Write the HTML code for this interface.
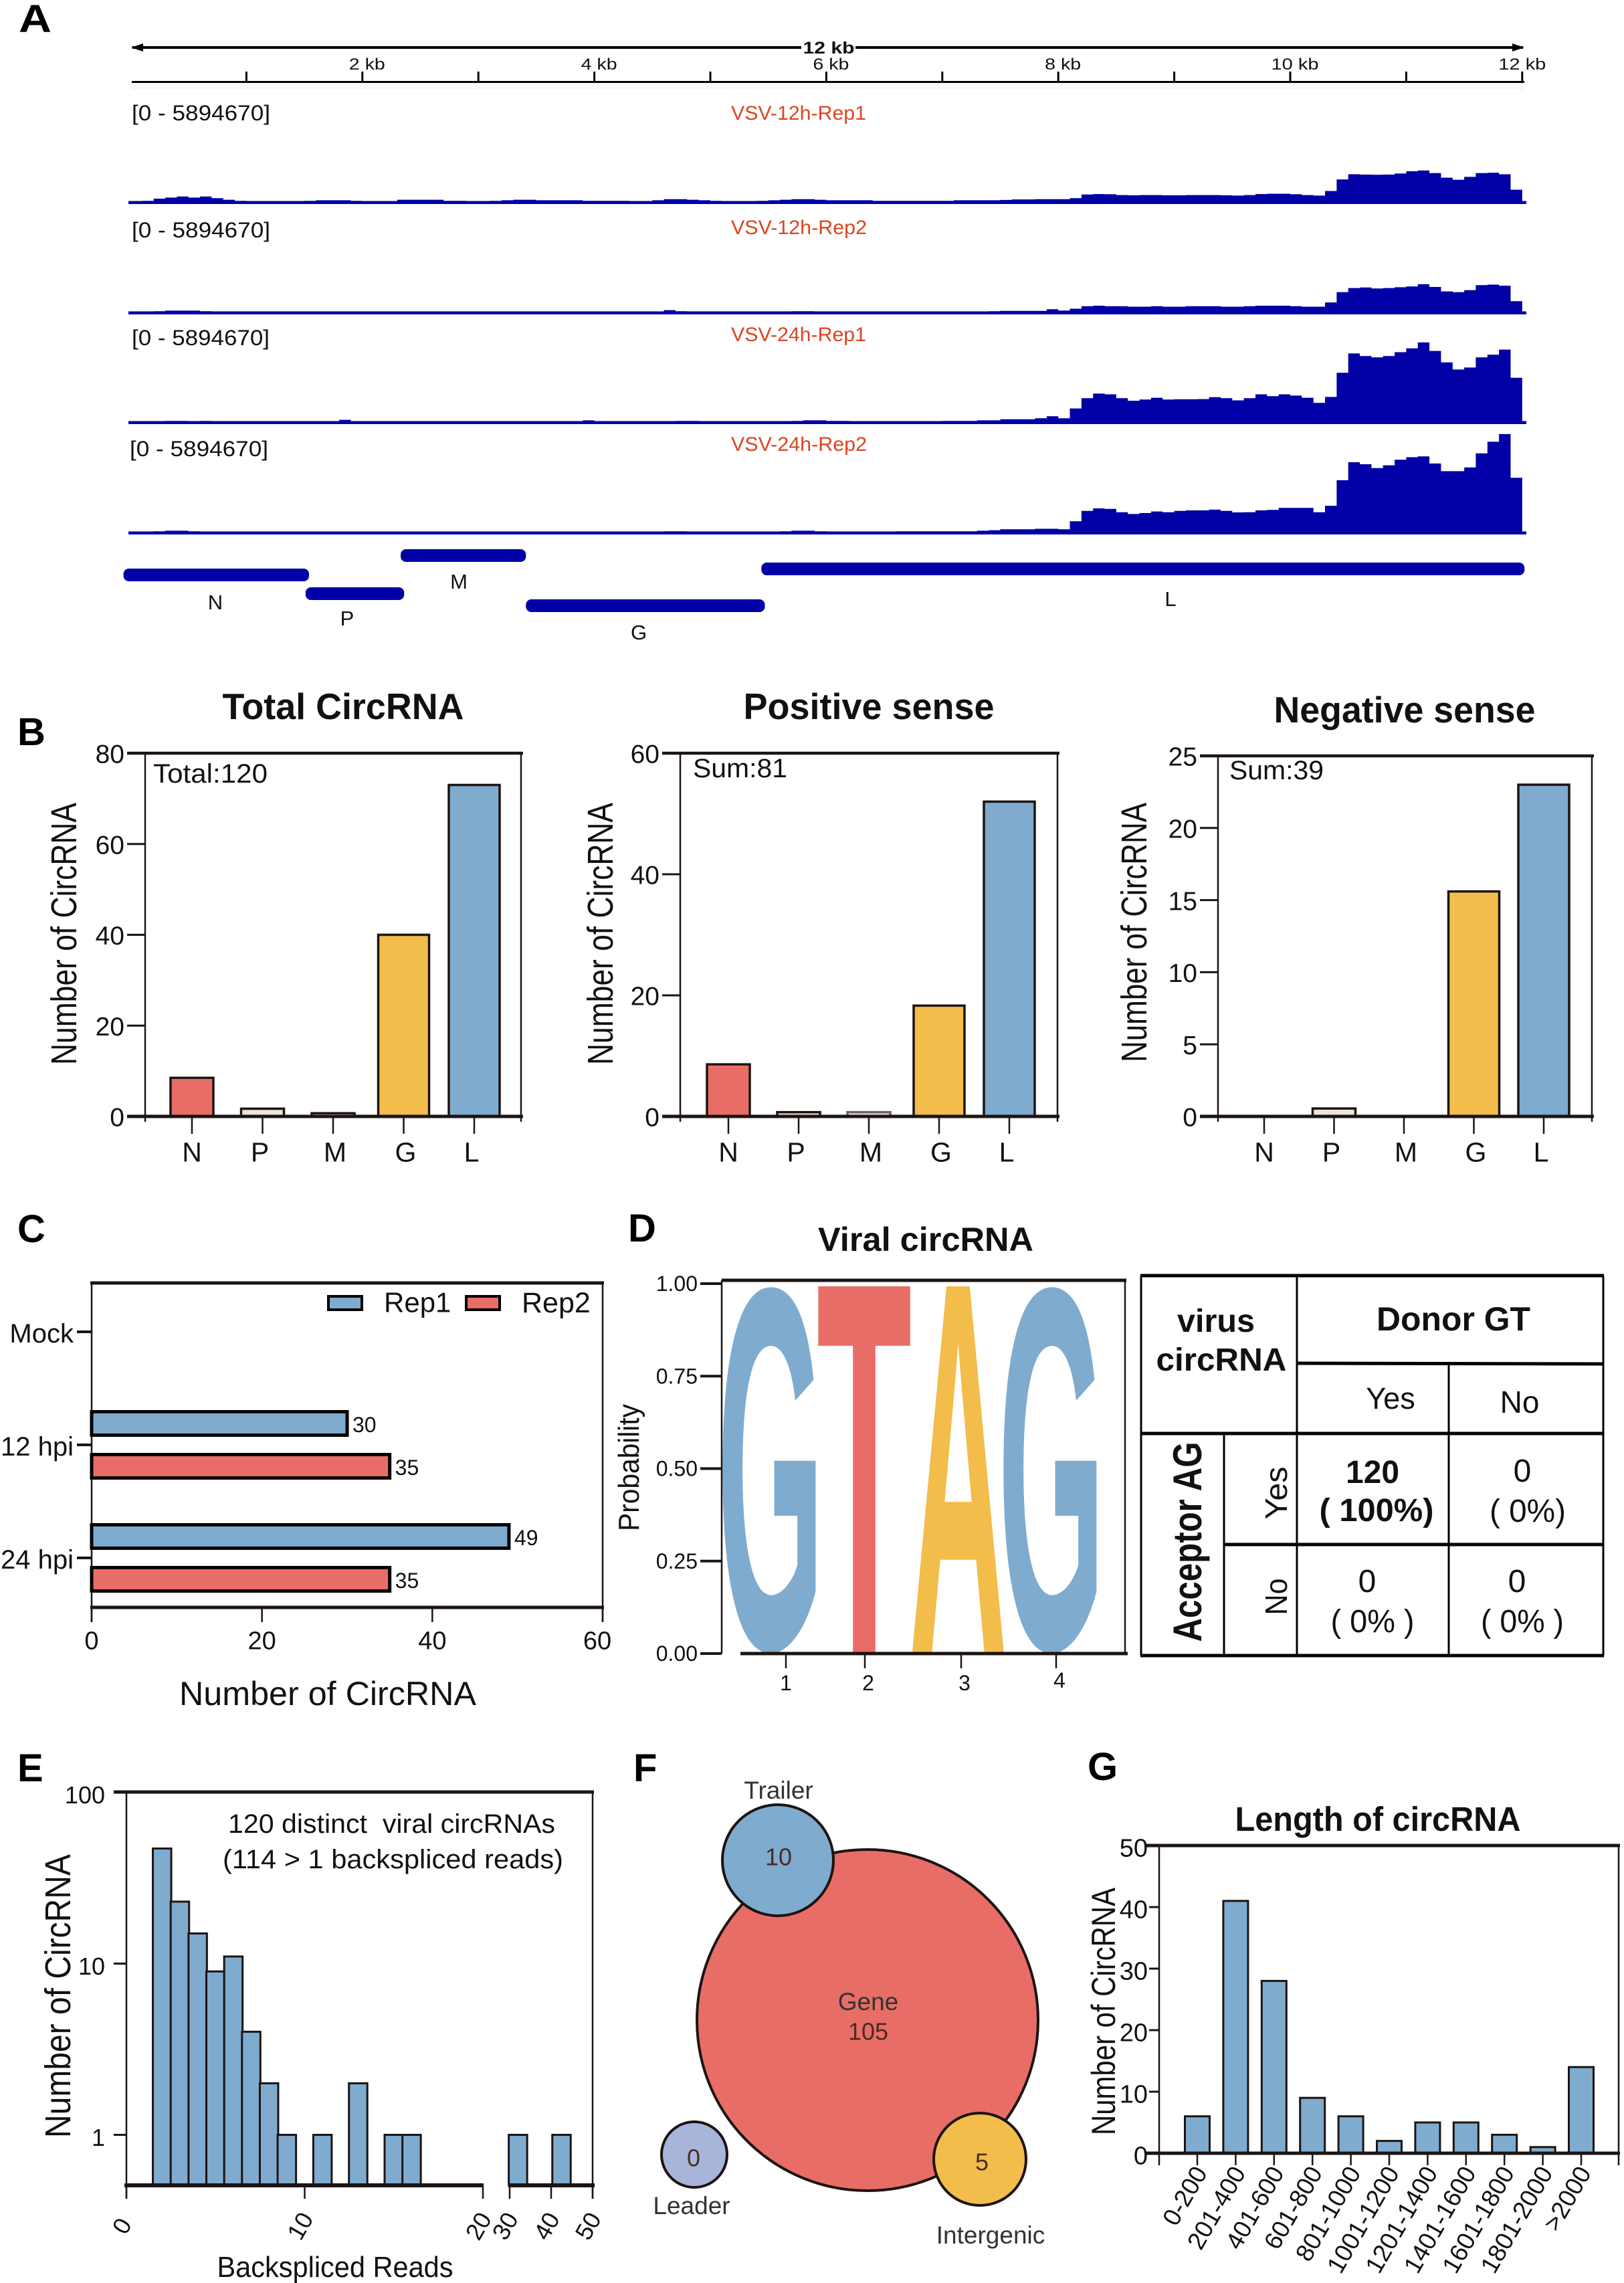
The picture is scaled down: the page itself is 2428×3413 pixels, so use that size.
<!DOCTYPE html>
<html lang="en">
<head>
<meta charset="utf-8">
<title>VSV viral circRNA figure</title>
<style>
html,body{margin:0;padding:0;background:#fff}
svg{display:block;font-family:"Liberation Sans",Arial,sans-serif;fill:#111}
.b{font-weight:bold}
.pl{font-weight:bold;font-size:58px;fill:#000}
</style>
</head>
<body>
<svg id="fig" xmlns="http://www.w3.org/2000/svg" width="2428" height="3413" viewBox="0 0 2428 3413">
<rect x="0" y="0" width="2428" height="3413" fill="#fff"/>

<!-- panel letters -->
<text class="pl" x="28" y="48" textLength="49" lengthAdjust="spacingAndGlyphs">A</text>
<text class="pl" x="26" y="1114">B</text>
<text class="pl" x="26" y="1857">C</text>
<text class="pl" x="939" y="1856">D</text>
<text class="pl" x="26" y="2663">E</text>
<text class="pl" x="947" y="2663">F</text>
<text class="pl" x="1626" y="2661">G</text>

<!-- panel A ruler -->
<rect x="195" y="124" width="2084" height="10" fill="#f7f7f7"/>
<line x1="198" y1="71" x2="2277" y2="71" stroke="#000" stroke-width="4"/>
<polygon points="196,71 214,65 214,77" fill="#000"/>
<polygon points="2279,71 2261,65 2261,77" fill="#000"/>
<rect x="1198" y="60" width="81" height="22" fill="#fff"/>
<text class="b" x="1239" y="80" font-size="25" text-anchor="middle" textLength="77" lengthAdjust="spacingAndGlyphs">12 kb</text>
<line x1="197" y1="122.500" x2="2279" y2="122.500" stroke="#000" stroke-width="3"/>

<text x="197" y="180" font-size="32" textLength="207" lengthAdjust="spacingAndGlyphs">[0 - 5894670]</text>
<text x="197" y="355" font-size="32" textLength="207" lengthAdjust="spacingAndGlyphs">[0 - 5894670]</text>
<text x="197" y="516" font-size="32" textLength="206" lengthAdjust="spacingAndGlyphs">[0 - 5894670]</text>
<text x="194" y="682" font-size="32" textLength="207" lengthAdjust="spacingAndGlyphs">[0 - 5894670]</text>
<text x="1093" y="179" font-size="30" fill="#dc4420" style="fill:#dc4420" textLength="202" lengthAdjust="spacingAndGlyphs">VSV-12h-Rep1</text>
<text x="1093" y="350" font-size="30" style="fill:#dc4420" textLength="203" lengthAdjust="spacingAndGlyphs">VSV-12h-Rep2</text>
<text x="1093" y="510" font-size="30" style="fill:#dc4420" textLength="202" lengthAdjust="spacingAndGlyphs">VSV-24h-Rep1</text>
<text x="1093" y="674" font-size="30" style="fill:#dc4420" textLength="203" lengthAdjust="spacingAndGlyphs">VSV-24h-Rep2</text>

<!-- panel B static -->
<text class="b" x="513" y="1075" font-size="55" text-anchor="middle" textLength="361" lengthAdjust="spacingAndGlyphs">Total CircRNA</text>
<text class="b" x="1299" y="1075" font-size="55" text-anchor="middle" textLength="375" lengthAdjust="spacingAndGlyphs">Positive sense</text>
<text class="b" x="2100" y="1080" font-size="55" text-anchor="middle" textLength="391" lengthAdjust="spacingAndGlyphs">Negative sense</text>
<text transform="translate(114,1396) rotate(-90)" font-size="54" text-anchor="middle" textLength="392" lengthAdjust="spacingAndGlyphs">Number of CircRNA</text>
<text transform="translate(916,1396) rotate(-90)" font-size="54" text-anchor="middle" textLength="392" lengthAdjust="spacingAndGlyphs">Number of CircRNA</text>
<text transform="translate(1714,1394) rotate(-90)" font-size="54" text-anchor="middle" textLength="388" lengthAdjust="spacingAndGlyphs">Number of CircRNA</text>
<text x="229" y="1170" font-size="40" textLength="171" lengthAdjust="spacingAndGlyphs">Total:120</text>
<text x="1036" y="1162" font-size="40" textLength="141" lengthAdjust="spacingAndGlyphs">Sum:81</text>
<text x="1838" y="1165" font-size="40" textLength="141" lengthAdjust="spacingAndGlyphs">Sum:39</text>

<!-- panel C static -->
<text x="490" y="2549" font-size="50" text-anchor="middle" textLength="444" lengthAdjust="spacingAndGlyphs">Number of CircRNA</text>

<!-- panel D static -->
<text class="b" x="1384" y="1870" font-size="50" text-anchor="middle" textLength="322" lengthAdjust="spacingAndGlyphs">Viral circRNA</text>
<text transform="translate(955,2194) rotate(-90)" font-size="44" text-anchor="middle" textLength="190" lengthAdjust="spacingAndGlyphs">Probability</text>

<g stroke="#000">
  <line x1="1705" y1="1907" x2="2398" y2="1907" stroke-width="5"/>
  <line x1="1705" y1="2475" x2="2398" y2="2475" stroke-width="5"/>
  <line x1="1706" y1="1907" x2="1706" y2="2475" stroke-width="3"/>
  <line x1="2397" y1="1907" x2="2397" y2="2475" stroke-width="3"/>
  <line x1="1939" y1="1907" x2="1939" y2="2475" stroke-width="3"/>
  <line x1="2166" y1="2038" x2="2166" y2="2475" stroke-width="3"/>
  <line x1="1830" y1="2143" x2="1830" y2="2475" stroke-width="3"/>
  <line x1="1939" y1="2038" x2="2398" y2="2039" stroke-width="5"/>
  <line x1="1705" y1="2143" x2="2398" y2="2143" stroke-width="5"/>
  <line x1="1830" y1="2309" x2="2398" y2="2309" stroke-width="5"/>
</g>
<text class="b" x="1818" y="1991" font-size="48" text-anchor="middle" textLength="116" lengthAdjust="spacingAndGlyphs">virus</text>
<text class="b" x="1826" y="2049" font-size="48" text-anchor="middle" textLength="195" lengthAdjust="spacingAndGlyphs">circRNA</text>
<text class="b" x="2173" y="1989" font-size="50" text-anchor="middle" textLength="230" lengthAdjust="spacingAndGlyphs">Donor GT</text>
<text x="2079" y="2106" font-size="45" text-anchor="middle">Yes</text>
<text x="2272" y="2112" font-size="46" text-anchor="middle">No</text>
<text class="b" transform="translate(1796,2305) rotate(-90)" font-size="60" text-anchor="middle" textLength="299" lengthAdjust="spacingAndGlyphs">Acceptor AG</text>
<text transform="translate(1924,2232) rotate(-90)" font-size="46" text-anchor="middle" textLength="79" lengthAdjust="spacingAndGlyphs">Yes</text>
<text transform="translate(1924,2387) rotate(-90)" font-size="46" text-anchor="middle" textLength="55" lengthAdjust="spacingAndGlyphs">No</text>
<text class="b" x="2052" y="2217" font-size="48" text-anchor="middle">120</text>
<text class="b" x="2058" y="2274" font-size="48" text-anchor="middle" textLength="171" lengthAdjust="spacingAndGlyphs">( 100%)</text>
<text x="2276" y="2215" font-size="48" text-anchor="middle">0</text>
<text x="2284" y="2275" font-size="48" text-anchor="middle" textLength="114" lengthAdjust="spacingAndGlyphs">( 0%)</text>
<text x="2044" y="2380" font-size="48" text-anchor="middle">0</text>
<text x="2052" y="2440" font-size="48" text-anchor="middle" textLength="125" lengthAdjust="spacingAndGlyphs">( 0% )</text>
<text x="2268" y="2380" font-size="48" text-anchor="middle">0</text>
<text x="2276" y="2440" font-size="48" text-anchor="middle" textLength="124" lengthAdjust="spacingAndGlyphs">( 0% )</text>

<!-- panel E static -->
<text transform="translate(105,2984) rotate(-90)" font-size="54" text-anchor="middle" textLength="424" lengthAdjust="spacingAndGlyphs">Number of CircRNA</text>
<text x="501" y="3404" font-size="44" text-anchor="middle" textLength="353" lengthAdjust="spacingAndGlyphs">Backspliced Reads</text>
<text x="341" y="2740" font-size="40" textLength="489" lengthAdjust="spacingAndGlyphs" xml:space="preserve">120 distinct  viral circRNAs</text>
<text x="333" y="2793" font-size="40" textLength="509" lengthAdjust="spacingAndGlyphs">(114 &gt; 1 backspliced reads)</text>

<!-- panel G static -->
<text class="b" x="2060" y="2737" font-size="51" text-anchor="middle" textLength="427" lengthAdjust="spacingAndGlyphs">Length of circRNA</text>
<text transform="translate(1667,3007) rotate(-90)" font-size="50" text-anchor="middle" textLength="370" lengthAdjust="spacingAndGlyphs">Number of CircRNA</text>

<g id="dyn"></g>
</svg>

<script>
/* ---------- panel A data ---------- */
const rulerTicksKb = [1,2,3,4,5,6,7,8,9,10,11,12];
const rulerLabelsKb = [2,4,6,8,10,12];
const trackScaleMax = 100; /* percent of the [0 - 5894670] range */
const track12hRep1 = [2,3,5,6,7,6,7,5.5,4,3,2,2,2,2,2,3,3.5,3.5,3.5,3,2,2,2.5,4,4,4,4,3,3,2.5,2,3,3.5,4,4,3.5,3.5,3.5,3.5,3,3,3,3,2.5,2.5,3.5,4.5,4.5,4,3.5,3,2.5,2.5,2.5,3,3.5,4,4.5,4.5,4,3.5,3.5,3.5,3.5,3,3,3,3,3,3,3,3.5,3.5,3.5,3.5,3.8,4.3,4.3,4.5,4.5,4.5,5.5,8.9,9.3,9.1,8.4,8.1,8.4,8.4,8.1,8.1,8.4,8.4,8.4,8.1,7.9,8.4,9.3,9.6,9.6,9.1,8.4,7.9,12.2,23,27.8,27.5,27.3,27.5,28.5,30.6,31.3,28.9,24.6,22.7,25.4,28.9,29.2,27.8,13.4];
const track12hRep2 = [1.5,2,3,3.5,3.5,3.5,3,2.5,2.5,2,1.5,1.5,1.5,1.5,1.5,2,2,2,2,2,1.5,1.5,2,2.5,2.5,2.5,2.5,2,2,1.5,1.5,1.5,2,2.5,2.5,2.5,2,2,2,2,2,2,2,1.5,1.5,2,4,3,2.5,2,2,1.5,1.5,1.5,2,2,2.5,3,3,2.5,2,2,2,2,2,2,2,2,2,2,2,2,2,2.5,3,3.3,3.3,3.3,3.3,4.8,3.6,5.3,7.7,8.1,7.7,7.7,7.2,7.2,7.7,7.2,7.2,7.7,7.7,7.7,7.2,7.2,7.7,8.1,8.1,8.1,7.7,7.2,7.2,11.2,20.8,24.6,25.1,24.2,24.6,25.4,26.1,28.2,25.6,21.5,20.8,22.7,27.3,27.8,26.8,12.4];
const track24hRep1 = [1.5,2,2.5,3,3,2.5,3,2.5,2,1.5,1.5,1.5,1.5,1.5,1.5,1.5,1.5,2,4,1.5,1.5,1.5,1.5,1.5,2,2,2,1.5,1.5,1.5,1.5,1.5,1.5,2,2,2,2,1.5,1.5,3.5,1.5,1.5,1.5,1.5,1.5,1.5,2.5,3,3,2.5,2,2,1.5,2,1.5,2,2.5,3,3.5,3.5,3,3,2.5,2.5,2.5,2.5,2.5,2.5,2.5,2.5,3,3,3,3.5,3.5,4.5,4.5,4.5,5.5,7.4,5.5,14.6,24.2,28.5,27.8,24.2,21.8,23,24.6,23,23.2,23.2,23.4,25.1,24.2,22.2,24.2,27.8,26.1,27.8,26.6,24.6,19.9,25.4,48,66,63.6,62.4,63.6,67.2,70.8,76.3,68.4,57.7,51,52.9,62.4,64.8,69.6,43.3];
const track24hRep2 = [1.5,2,3,3.5,3.5,3,2.5,2.5,2.5,2,2,1.5,1.5,1.5,1.5,1.5,1.5,1.5,2,1.5,1.5,1.5,1.5,2,2,2,2,1.5,1.5,1.5,1.5,1.5,2,2.5,2.5,2.5,2,2,1.5,1.5,1.5,1.5,1.5,1.5,1.5,2,3,3,2.5,2,1.5,1.5,1.5,1.5,2,2.5,3,3.5,3.5,3,2.5,2.5,2.5,2.5,2.5,2.5,3,3,3,3,3,3,3,3.5,4,4.8,4.8,4.8,5.3,5.3,4.8,12.4,22,24.4,23.9,20.8,19.1,20,21.5,20.8,22,22.5,22.5,23.2,22,20.6,20.8,22.5,23,24.9,24.9,24.9,20.8,26.8,50.7,67.5,65.6,62,64.6,69.9,72.2,73,66.3,59.1,59.1,62.7,75.8,86.6,93.8,53];
const genes = ['N','P','M','G','L'];
const geneStartKb = [-0.06,1.51,2.33,3.41,5.44];
const geneEndKb = [1.54,2.36,3.41,5.47,12.02];

/* ---------- panel B data ---------- */
const lociCategories = ['N','P','M','G','L'];
const totalCounts = [8.5,1.7,0.7,40,73];
const positiveCounts = [8.6,0.7,0.7,18.3,52];
const negativeCounts = [0,0.55,0,15.6,23];
const totalTicks = [0,20,40,60,80];
const positiveTicks = [0,20,40,60];
const negativeTicks = [0,5,10,15,20,25];

/* ---------- panel C data ---------- */
const timepoints = ['Mock','12 hpi','24 hpi'];
const rep1Counts = [0,30,49];
const rep2Counts = [0,35,35];
const timepointXTicks = [0,20,40,60];

/* ---------- panel D data ---------- */
const motifLetters = ['G','T','A','G'];
const motifProbability = [1,1,1,1];
const motifPositions = [1,2,3,4];
const motifYTicks = ['0.00','0.25','0.50','0.75','1.00'];

/* ---------- panel E data ---------- */
const readBins = [2,3,4,5,6,7,8,9,11,13,15,16,32,42.5];
const readCounts = [47,23,15,9,11,4,2,1,1,2,1,1,1,1];
const readXTicks = [0,10,20,30,40,50];
const readYTicks = [1,10,100];

/* ---------- panel F data ---------- */
const regionNames = ['Gene','Trailer','Intergenic','Leader'];
const regionCounts = [105,10,5,0];

/* ---------- panel G data ---------- */
const lengthBins = ['0-200','201-400','401-600','601-800','801-1000','1001-1200','1201-1400','1401-1600','1601-1800','1801-2000','>2000'];
const lengthCounts = [6,41,28,9,6,2,5,5,3,1,14];
const lengthYTicks = [0,10,20,30,40,50];

/* ---------- helpers ---------- */
const NS = 'http://www.w3.org/2000/svg';
const root = document.getElementById('dyn');
const INK = '#1c1412';
function mk(tag, attrs, parent) {
  const el = document.createElementNS(NS, tag);
  for (const k in attrs) el.setAttribute(k, attrs[k]);
  (parent || root).appendChild(el);
  return el;
}
function linear(d0, d1, r0, r1) { return v => r0 + (v - d0) * (r1 - r0) / (d1 - d0); }
function line(x1, y1, x2, y2, w, color) {
  return mk('line', {x1, y1, x2, y2, stroke: color || INK, 'stroke-width': w});
}
function label(str, x, y, size, opt) {
  opt = opt || {};
  const a = {x, y: y + size * 0.35, 'font-size': size, 'text-anchor': opt.anchor || 'middle'};
  if (opt.rot) { a.y = y; a.transform = 'rotate(' + opt.rot + ' ' + x + ' ' + y + ')'; }
  if (opt.color) a.style = 'fill:' + opt.color;
  const el = mk('text', a);
  el.textContent = str;
  return el;
}
const BLUE = '#7fabcf', RED = '#e96d67', YEL = '#f2bd4b', CREAM = '#ece5d8';

/* ---------- panel A ---------- */
const xKb = linear(0, 12, 195, 2275.8);
rulerTicksKb.forEach(k => {
  const t = line(xKb(k), 107, xKb(k), 122, 3, '#000');
  
  
});
rulerLabelsKb.forEach(k => {
  const cx = xKb(k) + (k === 12 ? 0 : 7);
  const t = mk('text', {x: cx, y: 104, 'font-size': 24, 'text-anchor': 'middle', textLength: k >= 10 ? 71 : 54, lengthAdjust: 'spacingAndGlyphs'});
  t.textContent = k + ' kb';
  
  
});
const trackY = linear(0, trackScaleMax, 0, 160);
function drawTrack(values, base, name) {
  const step = 12 / values.length;
  let d = 'M' + xKb(0) + ' ' + base;
  values.forEach((v, i) => {
    const h = base - trackY(v);
    d += 'L' + xKb(i * step).toFixed(1) + ' ' + h.toFixed(1) + 'L' + xKb((i + 1) * step).toFixed(1) + ' ' + h.toFixed(1);
  });
  d += 'L' + xKb(12).toFixed(1) + ' ' + base + 'Z';
  const p = mk('path', {d, fill: '#0000a6'});
  
  
  const b = mk('rect', {x: 192, y: base - 4.5, width: 2090, height: 4.5, fill: '#0000a6'});
  
  
}
drawTrack(track12hRep1, 305, '12h-rep1');
drawTrack(track12hRep2, 470, '12h-rep2');
drawTrack(track24hRep1, 634, '24h-rep1');
drawTrack(track24hRep2, 799, '24h-rep2');
const geneRowY = {N: 850, P: 878, M: 821, G: 896, L: 841};
const geneLabelPos = {N: [322, 900], P: [519, 924], M: [686, 869], G: [955, 945], L: [1750, 895]};
genes.forEach((g, i) => {
  const x0 = xKb(geneStartKb[i]), x1 = xKb(geneEndKb[i]);
  const r = mk('rect', {x: x0, y: geneRowY[g], width: x1 - x0, height: 19, rx: 8, ry: 8, fill: '#0000a6'});
  
  
  const t = label(g, geneLabelPos[g][0], geneLabelPos[g][1], 31);
  
  
});

/* ---------- panel B ---------- */
const catFills = [RED, CREAM, CREAM, YEL, BLUE];
const catLabelNudge = [0, -4, 3, 3, -4];
function drawBarChart(cfg) {
  const y = linear(0, cfg.max, cfg.bottom, cfg.top);
  const xc = i => cfg.firstX + cfg.step * i;
  const frame = [
    [cfg.left, cfg.top, cfg.left, cfg.bottom + 8, 2.5, 'axis-left'],
    [cfg.right, cfg.top, cfg.right, cfg.bottom + 8, 2.5, 'axis-right'],
    [cfg.left - 27, cfg.top, cfg.right + 3, cfg.top, 4.5, 'axis-top']
  ];
  frame.forEach(f => {
    const l = line(f[0], f[1], f[2], f[3], f[4]);
    
    
  });
  cfg.ticks.forEach(v => {
    const l = line(cfg.left - 27, y(v), cfg.left, y(v), 3);
    
    
    const t = label(String(v), cfg.left - 31, y(v) + 1, 39, {anchor: 'end'});
    
    
  });
  lociCategories.forEach((c, i) => {
    const l = line(xc(i), cfg.bottom, xc(i), cfg.bottom + 26, 2.5);
    
    
    const t = label(c, xc(i) + catLabelNudge[i], 1722, 41);
    
    
    const v = cfg.values[i];
    if (v > 0) {
      const w = i < 3 ? 64 : 76;
      const stroke = cfg.grayIndex === i ? '#666' : INK;
      const r = mk('rect', {x: xc(i) - w / 2, y: y(v), width: w, height: cfg.bottom - y(v), fill: catFills[i], stroke, 'stroke-width': 3.5});
      
      
    }
  });
  const base = line(cfg.left - 27, cfg.bottom, cfg.right + 3, cfg.bottom, 5);
  
  
}
drawBarChart({name: 'total', values: totalCounts, ticks: totalTicks, max: 80, left: 217, right: 779, top: 1126, bottom: 1669, firstX: 287, step: 105.5});
drawBarChart({name: 'positive', values: positiveCounts, ticks: positiveTicks, max: 60, left: 1017, right: 1581, top: 1126, bottom: 1669, firstX: 1089, step: 105, grayIndex: 2});
drawBarChart({name: 'negative', values: negativeCounts, ticks: negativeTicks, max: 25, left: 1821, right: 2380, top: 1130, bottom: 1669, firstX: 1890, step: 104.5});

/* ---------- panel C ---------- */
const xC = linear(0, 60, 137, 901);
const rowC = i => 1991 + 169 * i;
[[137,1918,137,2425,2.5,'c-axis-left'],[901,1918,901,2425,2.5,'c-axis-right'],[135,1918,903,1918,5,'c-axis-top'],[135,2403,903,2403,5,'c-axis-bottom']].forEach(f => {
  const l = line(f[0], f[1], f[2], f[3], f[4]);
  
  
});
timepointXTicks.forEach((v, i) => {
  const l = line(xC(v), 2403, xC(v), 2425, 2.5);
  
  
  const t = label(String(v), xC(v) - (i === 3 ? 8 : 0), 2452, 38);
  
  
});
timepoints.forEach((g, i) => {
  const l = line(115, rowC(i), 137, rowC(i), 4);
  
  
  const t = label(g, 110, rowC(i) + 2, 40, {anchor: 'end'});
  
  
  [[rep1Counts, BLUE, -32, 'rep1'], [rep2Counts, RED, 32, 'rep2']].forEach(s => {
    const v = s[0][i];
    if (v <= 0) return;
    const yc = rowC(i) + s[2];
    const r = mk('rect', {x: xC(0), y: yc - 17.5, width: xC(v) - xC(0), height: 35, fill: s[1], stroke: '#000', 'stroke-width': 5});
    
    
    const vt = label(String(v), xC(v) + 8, yc + 2, 32, {anchor: 'start'});
    
    
  });
});
const swatch1 = mk('rect', {x: 491, y: 1938, width: 50, height: 20, fill: BLUE, stroke: '#000', 'stroke-width': 4});


const leg1 = label('Rep1', 574, 1947, 42, {anchor: 'start'});


const swatch2 = mk('rect', {x: 697, y: 1938, width: 50, height: 20, fill: RED, stroke: '#000', 'stroke-width': 4});


const leg2 = label('Rep2', 780, 1947, 43, {anchor: 'start'});



/* ---------- panel D ---------- */
const yLogo = linear(0, 1, 2472, 1923);
const logoSpecs = {
  G: {color: BLUE, w: 66.5, h: 71, o: 1},
  T: {color: RED, w: 58.7, h: 68.8, o: 0},
  A: {color: YEL, w: 66, h: 68.8, o: 0}
};
const logoCenters = [1152, 1292, 1432.5, 1572];
const logoWidths = [137, 137, 135, 137];
motifLetters.forEach((L, i) => {
  const s = logoSpecs[L];
  const top = yLogo(motifProbability[i]);
  const sy = (yLogo(0) - top) / s.h;
  const sx = logoWidths[i] / s.w;
  const t = mk('text', {
    'font-size': 100, 'text-anchor': 'middle', 'font-weight': 'bold',
    transform: 'translate(' + logoCenters[i] + ',' + (yLogo(0) - s.o * sy) + ') scale(' + sx + ',' + sy + ')',
    style: 'fill:' + s.color
  });
  t.textContent = L;
  
  
});
const logoFrame = [
  [1079, 1914, 1079, 2472, 2.5, 'logo-axis-left'],
  [1682, 1914, 1682, 2472, 2.5, 'logo-axis-right'],
  [1079, 1914, 1684, 1914, 5, 'logo-axis-top'],
  [1107, 2472, 1686, 2472, 5, 'logo-axis-bottom']
];
logoFrame.forEach(f => {
  const l = line(f[0], f[1], f[2], f[3], f[4]);
  
  
});
motifYTicks.forEach(v => {
  const yy = 2472 - (2472 - 1919) * Number(v);
  const l = line(1047, yy, 1079, yy, 4);
  
  
  const t = label(v, 1043, yy, 32, {anchor: 'end'});
  
  
});
const logoTickX = [1175, 1293, 1437, 1579];
motifPositions.forEach((p, i) => {
  const l = line(logoTickX[i], 2472, logoTickX[i], 2494, 2.5);
  
  
  const t = label(String(p), logoTickX[i] + (i === 0 ? 0 : 5), i === 3 ? 2512 : 2516, 32);
  
  
});

/* ---------- panel E ---------- */
const yE = v => 3191.5 - 256 * Math.log10(v);
const xE = v => v <= 20 ? 189 + 26.65 * v : 762 + 6.2 * (v - 30);
readBins.forEach((b, i) => {
  const w = 27.5;
  const r = mk('rect', {x: xE(b) - w / 2, y: yE(readCounts[i]), width: w, height: 3267 - yE(readCounts[i]), fill: BLUE, stroke: INK, 'stroke-width': 3});
  
  
});
[[189,2679,189,3287,2.5,'e-axis-left'],[886,2679,886,3287,2.5,'e-axis-right'],[170,2679,888,2679,5,'e-axis-top'],[186,3267,723,3267,6,'e-axis-bottom-left'],[760,3267,889,3267,6,'e-axis-bottom-right']].forEach(f => {
  const l = line(f[0], f[1], f[2], f[3], f[4]);
  
  
});
readXTicks.forEach(v => {
  const l = line(xE(v), 3267, xE(v), 3287, 2.5);
  
  
  const t = mk('text', {'font-size': 36, 'text-anchor': 'middle', transform: 'translate(' + (xE(v) + 4) + ',' + 3334 + ') rotate(-60)'});
  t.textContent = String(v);
  
  
});
readYTicks.forEach(v => {
  const l = line(170, yE(v), 189, yE(v), 3);
  
  
  const t = label(String(v), 157, yE(v) + 4, 36, {anchor: 'end'});
  
  
});

/* ---------- panel F ---------- */
const bubbleR = v => 49 + 5.83 * Math.pow(v, 0.766);
const bubbleLayout = {Gene: [1297, 3020], Trailer: [1163, 2781], Intergenic: [1465, 3228], Leader: [1038, 3221]};
const bubbleFill = {Gene: RED, Trailer: BLUE, Intergenic: YEL, Leader: '#a8b5da'};
const bubbleNameAt = {Gene: [1298, 2992], Trailer: [1164, 2676], Intergenic: [1481, 3341], Leader: [1034, 3297]};
const bubbleValueAt = {Gene: [1298, 3037], Trailer: [1164, 2776], Intergenic: [1468, 3232], Leader: [1037, 3226]};
regionNames.forEach((n, i) => {
  const c = mk('circle', {cx: bubbleLayout[n][0], cy: bubbleLayout[n][1], r: bubbleR(regionCounts[i]), fill: bubbleFill[n], stroke: INK, 'stroke-width': 4});
  
  
});
regionNames.forEach((n, i) => {
  const a = label(n, bubbleNameAt[n][0], bubbleNameAt[n][1], 37, {color: '#333'});
  
  
  const b = label(String(regionCounts[i]), bubbleValueAt[n][0], bubbleValueAt[n][1], 36, {color: '#4a2c20'});
  
  
});

/* ---------- panel G ---------- */
const yG = linear(0, 50, 3219, 2759);
const xG = i => 1790 + 57.4 * i;
lengthBins.forEach((c, i) => {
  const r = mk('rect', {x: xG(i) - 18.5, y: yG(lengthCounts[i]), width: 37, height: 3219 - yG(lengthCounts[i]), fill: BLUE, stroke: INK, 'stroke-width': 3});
  
  
  const l = line(xG(i), 3219, xG(i), 3237, 2.5);
  
  
  const t = mk('text', {'font-size': 37, 'text-anchor': 'end', transform: 'translate(' + (xG(i) + 16) + ',3248) rotate(-60)'});
  t.textContent = c;
  
  
});
[[1733,2759,1733,3237,2.5,'g-axis-left'],[2420,2759,2420,3237,2.5,'g-axis-right'],[1714,2759,2422,2759,5,'g-axis-top'],[1714,3219,2422,3219,5,'g-axis-bottom']].forEach(f => {
  const l = line(f[0], f[1], f[2], f[3], f[4]);
  
  
});
lengthYTicks.forEach(v => {
  const l = line(1718, yG(v), 1733, yG(v), 3);
  
  
  const t = label(String(v), 1716, yG(v) + 3, 38, {anchor: 'end'});
  
  
});
</script>
</body>
</html>
